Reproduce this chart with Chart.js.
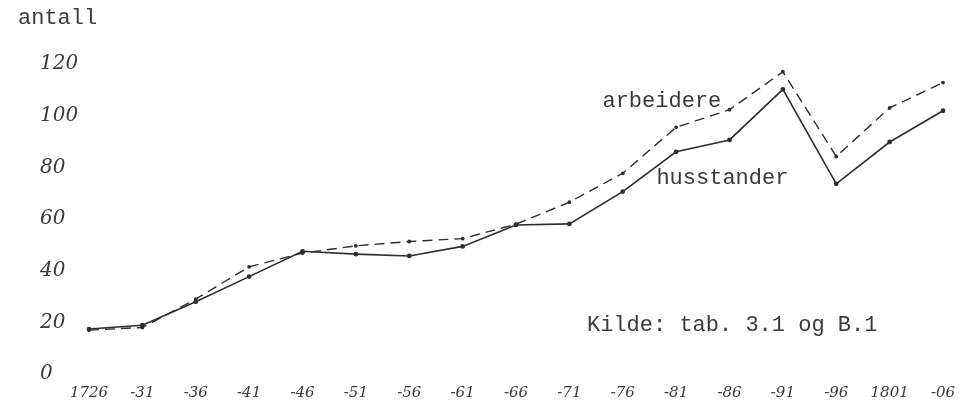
<!DOCTYPE html>
<html>
<head>
<meta charset="utf-8">
<script src="https://cdn.jsdelivr.net/npm/chart.js@4"></script>
<style>
html,body{margin:0;padding:0;background:#fff;}
#wrap{width:978px;height:411px;position:relative;}
</style>
</head>
<body>
<div id="wrap"><canvas id="c" width="978" height="411"></canvas></div>
<script>
const categories = ["1726","-31","-36","-41","-46","-51","-56","-61","-66","-71","-76","-81","-86","-91","-96","1801","-06"];
const husstander = [17.4, 18.9, 28, 37.7, 47.5, 46.4, 45.7, 49.4, 57.7, 58.1, 70.6, 86, 90.6, 110.2, 73.6, 89.8, 101.9];
const arbeidere = [17, 18, 29, 41.5, 46.8, 49.6, 51.3, 52.4, 58, 66.5, 77.7, 95.5, 102.3, 117, 84.2, 103, 112.8];
const yTicks = [0, 20, 40, 60, 80, 100, 120];
const yAxisTitle = "antall";
const seriesLabels = ["arbeidere", "husstander"];
const sourceNote = "Kilde: tab. 3.1 og B.1";

const annotations = {
  id: 'annotations',
  afterDraw(chart) {
    const ctx = chart.ctx;
    const xs = chart.scales.x, ys = chart.scales.y;
    ctx.save();
    ctx.fillStyle = '#3a3a3a';
    ctx.font = '22px "Liberation Mono", "DejaVu Sans Mono", monospace';
    ctx.textBaseline = 'alphabetic';
    ctx.textAlign = 'left';
    ctx.fillText(yAxisTitle, 18, 24);
    ctx.fillText(seriesLabels[0], xs.getPixelForValue(9.62), ys.getPixelForValue(103.5));
    ctx.fillText(seriesLabels[1], xs.getPixelForValue(10.63), ys.getPixelForValue(73.5));
    ctx.fillText(sourceNote, xs.getPixelForValue(9.33), ys.getPixelForValue(16.5));
    ctx.restore();
  }
};

new Chart(document.getElementById('c'), {
  type: 'line',
  data: {
    labels: categories,
    datasets: [
      {
        label: seriesLabels[1],
        data: husstander,
        borderColor: '#2e2e2e',
        backgroundColor: '#2e2e2e',
        borderWidth: 1.6,
        pointRadius: 1.6,
        pointHoverRadius: 1.6,
        tension: 0,
        fill: false
      },
      {
        label: seriesLabels[0],
        data: arbeidere,
        borderColor: '#2e2e2e',
        backgroundColor: '#2e2e2e',
        borderWidth: 1.4,
        borderDash: [10, 6],
        pointRadius: 1.2,
        pointHoverRadius: 1.2,
        tension: 0,
        fill: false
      }
    ]
  },
  options: {
    responsive: false,
    animation: false,
    events: [],
    layout: { padding: { top: 64, right: 35, bottom: 7, left: 40 } },
    plugins: { legend: { display: false }, tooltip: { enabled: false } },
    scales: {
      x: {
        type: 'category',
        offset: false,
        grid: { display: false },
        border: { display: false },
        ticks: {
          autoSkip: false,
          maxRotation: 0,
          minRotation: 0,
          padding: 2,
          color: '#3a3a3a',
          font: { family: '"DejaVu Serif", serif', style: 'italic', size: 15 }
        }
      },
      y: {
        min: 0,
        max: 120,
        afterFit(scale) { scale.width = 49; },
        afterBuildTicks(scale) { scale.ticks = yTicks.map(v => ({ value: v })); },
        grid: { display: false },
        border: { display: false },
        ticks: {
          padding: 4,
          crossAlign: 'far',
          color: '#3a3a3a',
          font: { family: '"DejaVu Serif", serif', style: 'italic', size: 20 }
        }
      }
    }
  },
  plugins: [annotations]
});
</script>
</body>
</html>
